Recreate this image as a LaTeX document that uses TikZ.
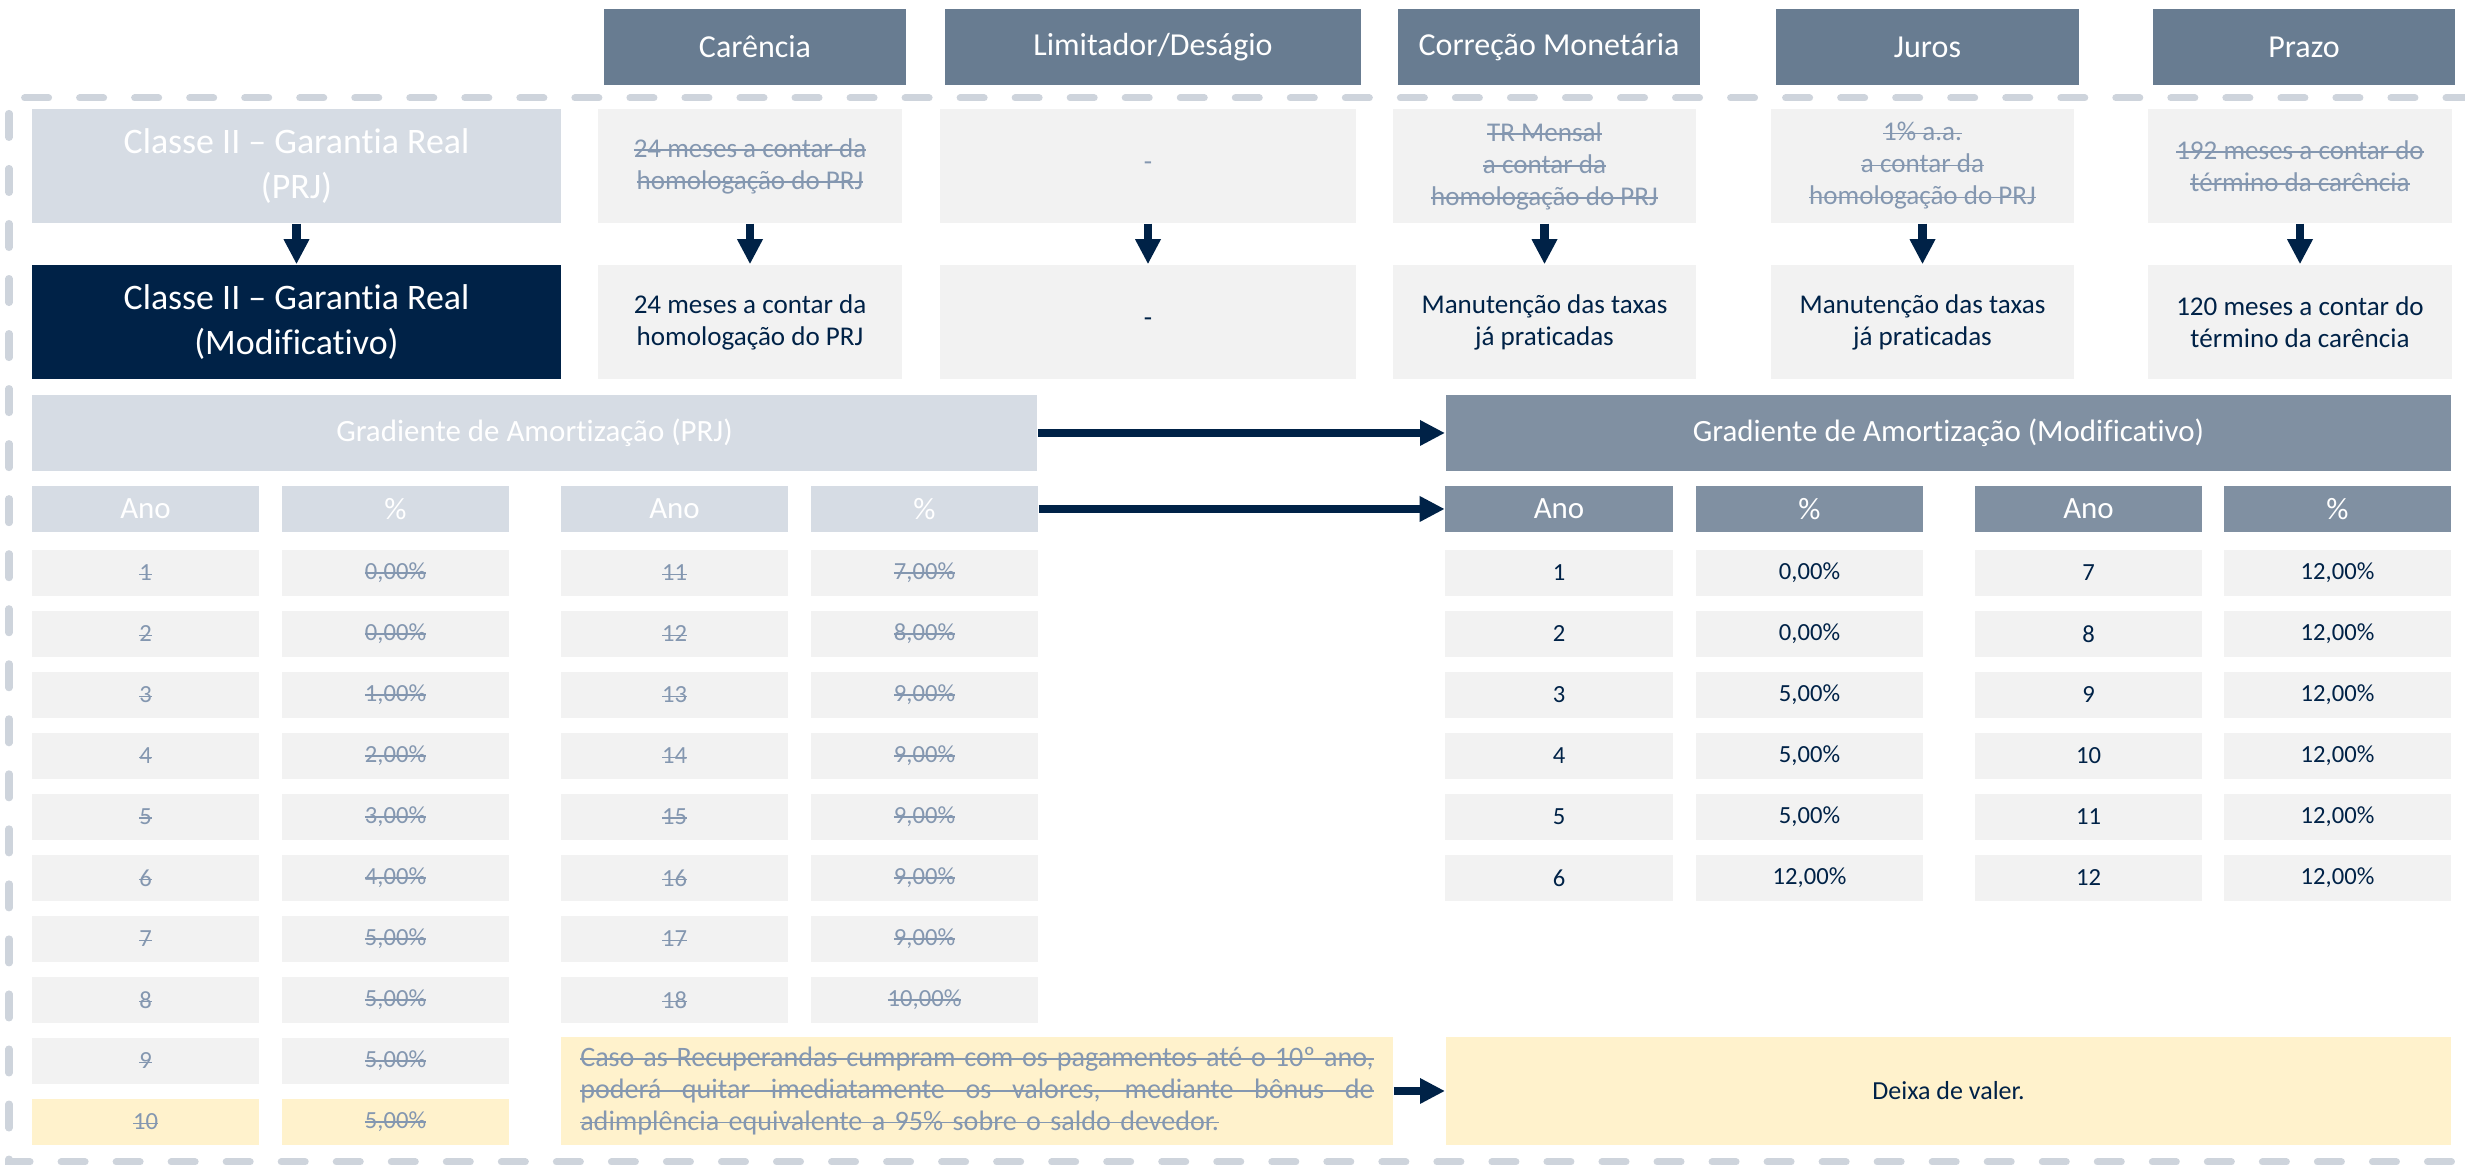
\documentclass[tikz,border=0pt]{standalone}
\usepackage{fontspec}
\setmainfont{Carlito}[Ligatures=NoCommon]
\usetikzlibrary{arrows.meta}
\definecolor{hdrgrey}{RGB}{104,124,145}
\definecolor{prjgrey}{RGB}{214,220,228}
\definecolor{modgrey}{RGB}{128,144,162}
\definecolor{navy}{RGB}{0,34,71}
\definecolor{cellgrey}{RGB}{242,242,242}
\definecolor{notey}{RGB}{255,242,204}
\definecolor{oldtext}{RGB}{132,151,176}
\definecolor{frameg}{RGB}{206,212,220}
\tikzset{
  box/.style={rectangle,inner sep=0pt,align=center},
  hdr/.style={box,fill=hdrgrey,text=white,minimum width=3.02cm,minimum height=0.76cm,font=\fontsize{9.1}{11}\selectfont},
  oldcell/.style={box,fill=cellgrey,text=oldtext,minimum width=3.03cm,minimum height=1.14cm,font=\fontsize{7.7}{9.1}\selectfont},
  newcell/.style={oldcell,text=navy},
  classbox/.style={box,text=white,minimum width=5.29cm,minimum height=1.14cm,font=\fontsize{10.2}{12.8}\selectfont},
  gradbox/.style={box,text=white,minimum width=10.05cm,minimum height=0.76cm,font=\fontsize{8.8}{10}\selectfont},
  thdr/.style={box,text=white,minimum width=2.27cm,minimum height=0.46cm,font=\fontsize{8.8}{10}\selectfont},
  tcell/.style={box,fill=cellgrey,minimum width=2.27cm,minimum height=0.46cm,font=\fontsize{7}{8.5}\selectfont},
  seta/.style={draw=navy,line width=0.085cm,-{Triangle[length=0.25cm,width=0.24cm]}},
  frame/.style={draw=frameg,line width=0.07cm,line cap=round,dash pattern=on 0.24cm off 0.31cm}
}
\newcommand{\hdrnode}{\node[hdr]}
\newcommand{\oldnode}{\node[oldcell]}
\newcommand{\newnode}{\node[newcell]}
\newcommand{\riscado}[1]{\leavevmode\setbox0\hbox{#1}\rlap{\rule[0.24em]{\wd0}{0.06em}}\box0}
\newcommand{\linha}[1]{\hbox to 7.93cm{\spaceskip=0.226em plus 1fil\relax #1}}

\begin{document}
\begin{tikzpicture}[x=0.01cm,y=-0.01cm]
  \useasboundingbox (0,0) rectangle (2465,1165);
  \draw[frame] (2470,98) -- (9,98) -- (9,1162) -- (2470,1162); %
  % column headers
  \hdrnode (hcar) at (755,47) {Carência};
  \hdrnode[minimum width=4.16cm] (hlim) at (1153,47) {Limitador/Deságio};
  \hdrnode (hcor) at (1549,47) {Correção Monetária};
  \hdrnode[minimum width=3.03cm] (hjur) at (1927.5,47) {Juros};
  \hdrnode (hpra) at (2304,47) {Prazo};
  % class boxes
  \node[classbox,fill=prjgrey] (cprj) at (296.5,166) {Classe II -- Garantia Real\\(PRJ)};
  \node[classbox,fill=navy] (cmod) at (296.5,322) {Classe II -- Garantia Real\\(Modificativo)};
  % PRJ terms
  \oldnode (ocar) at (750,166) {\riscado{24 meses a contar da}\\\riscado{homologação do PRJ}};
  \oldnode[minimum width=4.16cm] (olim) at (1148,166) {-};
  \oldnode (ocor) at (1544.5,166) {\riscado{TR Mensal}\\\riscado{a contar da}\\\riscado{homologação do PRJ}};
  \oldnode (ojur) at (1922.5,166) {\riscado{1\% a.a.}\\\riscado{a contar da}\\\riscado{homologação do PRJ}};
  \oldnode (opra) at (2300,166) {\riscado{192 meses a contar do}\\\riscado{término da carência}};
  % modified terms
  \newnode (ncar) at (750,322) {24 meses a contar da\\homologação do PRJ};
  \newnode[minimum width=4.16cm] (nlim) at (1148,322) {-};
  \newnode (ncor) at (1544.5,322) {Manutenção das taxas\\já praticadas};
  \newnode (njur) at (1922.5,322) {Manutenção das taxas\\já praticadas};
  \newnode (npra) at (2300,322) {120 meses a contar do\\término da carência};
  \draw[seta] (cprj) -- (cmod);
  \draw[seta] (ocar) -- (ncar);
  \draw[seta] (olim) -- (nlim);
  \draw[seta] (ocor) -- (ncor);
  \draw[seta] (ojur) -- (njur);
  \draw[seta] (opra) -- (npra);
  % gradients
  \node[gradbox,fill=prjgrey] (gprj) at (534.5,433) {Gradiente de Amortização (PRJ)};
  \node[gradbox,fill=modgrey] (gmod) at (1948.5,433) {Gradiente de Amortização (Modificativo)};
  \node[thdr,fill=prjgrey] (pa) at (145.5,509) {Ano};
  \node[thdr,fill=prjgrey] (pp) at (395.5,509) {\%};
  \node[thdr,fill=prjgrey] (pb) at (674.5,509) {Ano};
  \node[thdr,fill=prjgrey] (pq) at (924.5,509) {\%};
  \node[thdr,fill=modgrey] (ma) at (1559,509) {Ano};
  \node[thdr,fill=modgrey] (mp) at (1809.5,509) {\%};
  \node[thdr,fill=modgrey] (mb) at (2088.5,509) {Ano};
  \node[thdr,fill=modgrey] (mq) at (2337.5,509) {\%};
  \draw[seta] (gprj) -- (gmod);
  \draw[seta] (pq) -- (ma);
  \foreach \n/\v/\f in {1/{0,00}/cellgrey,2/{0,00}/cellgrey,3/{1,00}/cellgrey,4/{2,00}/cellgrey,5/{3,00}/cellgrey,
      6/{4,00}/cellgrey,7/{5,00}/cellgrey,8/{5,00}/cellgrey,9/{5,00}/cellgrey,10/{5,00}/notey}{
    \node[tcell,fill=\f,text=oldtext] (pano\n) at (145.5,{573+(\n-1)*61}) {\riscado{\n}};
    \node[tcell,fill=\f,text=oldtext] (ppct\n) at (395.5,{573+(\n-1)*61}) {\riscado{\v\%}};
  }
  \foreach \n/\v in {11/{7,00},12/{8,00},13/{9,00},14/{9,00},15/{9,00},16/{9,00},17/{9,00},18/{10,00}}{
    \node[tcell,text=oldtext] (pano\n) at (674.5,{573+(\n-11)*61}) {\riscado{\n}};
    \node[tcell,text=oldtext] (ppct\n) at (924.5,{573+(\n-11)*61}) {\riscado{\v\%}};
  }
  \foreach \n/\v in {1/{0,00},2/{0,00},3/{5,00},4/{5,00},5/{5,00},6/{12,00}}{
    \node[tcell,text=navy] (mano\n) at (1559,{573+(\n-1)*61}) {\n};
    \node[tcell,text=navy] (mpct\n) at (1809.5,{573+(\n-1)*61}) {\v\%};
  }
  \foreach \n in {7,...,12}{
    \node[tcell,text=navy] (mano\n) at (2088.5,{573+(\n-7)*61}) {\n};
    \node[tcell,text=navy] (mpct\n) at (2337.5,{573+(\n-7)*61}) {12,00\%};
  }
  % bonus note
  \node[box,fill=notey,text=oldtext,minimum width=8.32cm,minimum height=1.08cm,text width=7.93cm,align=left,
    font=\fontsize{8}{9}\selectfont] (nota) at (977,1091)
    {\riscado{\linha{Caso as Recuperandas cumpram com os pagamentos até o 10º ano,}}\\
     \riscado{\linha{poderá quitar imediatamente os valores, mediante bônus de}}\\
     \riscado{adimplência equivalente a 95\% sobre o saldo devedor.}};
  \node[box,fill=notey,text=navy,minimum width=10.05cm,minimum height=1.08cm,font=\fontsize{7.4}{9}\selectfont] (deixa) at (1948.5,1091) {Deixa de valer.};
  \draw[seta] (nota) -- (deixa);
\end{tikzpicture}
\end{document}
